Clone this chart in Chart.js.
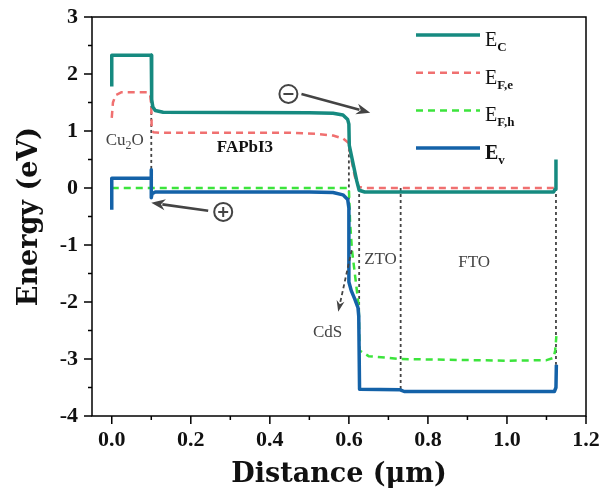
<!DOCTYPE html>
<html>
<head>
<meta charset="utf-8">
<script src="https://cdn.jsdelivr.net/npm/chart.js@4/dist/chart.umd.min.js"></script>
<style>
  html, body { margin: 0; padding: 0; background: #fff; }
</style>
</head>
<body>
<canvas id="bandChart" width="602" height="488"></canvas>
<script>
//========== data ==========//

// conduction band
const ecX = [0, 0, 0.1, 0.101, 0.104, 0.11, 0.13, 0.5, 0.56, 0.585, 0.597, 0.6, 0.601, 0.61, 0.62, 0.626, 0.64, 1.118, 1.122, 1.124];
const ecY = [1.78, 2.33, 2.33, 1.55, 1.42, 1.36, 1.33, 1.32, 1.31, 1.28, 1.2, 1.12, 0.75, 0.45, 0.12, -0.04, -0.07, -0.07, -0.02, 0.5];

// electron quasi-Fermi level
const efeX = [0, 0.003, 0.01, 0.025, 0.09, 0.097, 0.1, 0.101, 0.105, 0.12, 0.45, 0.52, 0.56, 0.585, 0.598, 0.605, 0.615, 0.625, 0.64, 1.12];
const efeY = [1.23, 1.5, 1.63, 1.68, 1.68, 1.64, 1.45, 1.05, 0.98, 0.97, 0.97, 0.95, 0.92, 0.87, 0.8, 0.55, 0.2, 0.02, 0.0, 0.0];

// hole quasi-Fermi level
const efhX = [0, 0.6, 0.603, 0.608, 0.615, 0.622, 0.625, 0.627, 0.65, 0.7, 0.73, 1.0, 1.1, 1.118, 1.122, 1.125];
const efhY = [0.0, 0.0, -0.6, -1.1, -1.5, -1.9, -2.1, -2.85, -2.95, -2.98, -3.0, -3.03, -3.02, -2.98, -2.85, -2.6];

// valence band
const evX = [0, 0, 0.1, 0.1, 0.1, 0.102, 0.11, 0.13, 0.5, 0.56, 0.585, 0.597, 0.6, 0.6, 0.606, 0.615, 0.623, 0.625, 0.627, 0.73, 0.74, 1.12, 1.124, 1.125];
const evY = [-0.38, 0.17, 0.17, 0.32, -0.17, -0.1, -0.07, -0.07, -0.07, -0.08, -0.12, -0.2, -0.35, -1.65, -1.8, -1.95, -2.1, -2.25, -3.53, -3.54, -3.57, -3.57, -3.5, -3.1];

// layer boundaries (dotted verticals)
const boundaryX = [0.1, 0.6, 0.626, 0.731, 1.124];
const boundaryTop = [1.65, 0.8, 0.0, 0.0, 0.0];
const boundaryBottom = [0.15, -0.4, -2.2, -3.55, -3.1];

// axes
const xTicks = [0, 0.2, 0.4, 0.6, 0.8, 1.0, 1.2];
const xTickLabels = ['0.0', '0.2', '0.4', '0.6', '0.8', '1.0', '1.2'];
const xMinor = [0.1, 0.3, 0.5, 0.7, 0.9, 1.1];
const yTicks = [-4, -3, -2, -1, 0, 1, 2, 3];
const yTickLabels = ['-4', '-3', '-2', '-1', '0', '1', '2', '3'];
const yMinor = [-3.5, -2.5, -1.5, -0.5, 0.5, 1.5, 2.5];

// legend
const legendMain = ['E', 'E', 'E', 'E'];
const legendSub = ['C', 'F,e', 'F,h', 'v'];

// annotations (data coordinates)
const layerLabels = [
  { text: 'Cu', sub: '2', tail: 'O', x: 0.033, y: 0.83, bold: false },
  { text: 'FAPbI3', x: 0.337, y: 0.7, bold: true },
  { text: 'ZTO', x: 0.68, y: -1.26, bold: false },
  { text: 'FTO', x: 0.917, y: -1.3, bold: false },
  { text: 'CdS', x: 0.546, y: -2.53, bold: false }
];
const arrows = [
  { from: [0.48, 1.65], to: [0.654, 1.32], dashed: false },
  { from: [0.244, -0.4], to: [0.1, -0.26], dashed: false },
  { from: [0.607, -1.09], to: [0.573, -2.17], dashed: true }
];
const carriers = [
  { sign: '-', x: 0.447, y: 1.65 },
  { sign: '+', x: 0.282, y: -0.42 }
];

//========== helpers ==========//
const toPoints = (xs, ys) => xs.map((x, i) => ({ x: x, y: ys[i] }));

const colors = {
  ec: 'rgb(22, 138, 128)',
  efe: 'rgb(240, 112, 112)',
  efh: 'rgb(60, 228, 60)',
  ev: 'rgb(20, 98, 168)',
  ink: '#444'
};

const bandSets = [
  { label: 'Ev', data: toPoints(evX, evY), borderColor: colors.ev, borderWidth: 3.5 },
  { label: 'Ec', data: toPoints(ecX, ecY), borderColor: colors.ec, borderWidth: 3.5 },
  { label: 'EFe', data: toPoints(efeX, efeY), borderColor: colors.efe, borderWidth: 2.5, borderDash: [7, 5] },
  { label: 'EFh', data: toPoints(efhX, efhY), borderColor: colors.efh, borderWidth: 2.5, borderDash: [7, 5] }
];

const boundarySets = boundaryX.map((x, i) => ({
  label: 'boundary' + i,
  data: [{ x: x, y: boundaryTop[i] }, { x: x, y: boundaryBottom[i] }],
  borderColor: colors.ink,
  borderWidth: 1.8,
  borderDash: [3, 3]
}));

const data = {
  datasets: bandSets.concat(boundarySets).map(d => Object.assign({
    fill: false,
    pointRadius: 0,
    pointHoverRadius: 0,
    tension: 0,
    borderCapStyle: 'butt',
    borderJoinStyle: 'round'
  }, d))
};

// legend order in the picture
const legendOrder = [1, 2, 3, 0];

//========== plugins ==========//
const frameAndTicks = {
  id: 'frameAndTicks',
  afterDatasetsDraw(chart) {
    const { ctx, chartArea: a, scales: { x, y } } = chart;
    ctx.save();
    ctx.strokeStyle = '#000';
    ctx.lineWidth = 1.5;
    ctx.strokeRect(a.left, a.top, a.right - a.left, a.bottom - a.top);
    ctx.beginPath();
    yTicks.forEach(v => { const p = y.getPixelForValue(v); ctx.moveTo(a.left - 8, p); ctx.lineTo(a.left, p); });
    yMinor.forEach(v => { const p = y.getPixelForValue(v); ctx.moveTo(a.left - 4, p); ctx.lineTo(a.left, p); });
    xTicks.forEach(v => { const p = x.getPixelForValue(v); ctx.moveTo(p, a.bottom); ctx.lineTo(p, a.bottom + 8); });
    xMinor.forEach(v => { const p = x.getPixelForValue(v); ctx.moveTo(p, a.bottom); ctx.lineTo(p, a.bottom + 4); });
    ctx.stroke();
    ctx.restore();
  }
};

const annotations = {
  id: 'annotations',
  afterDatasetsDraw(chart) {
    const { ctx, scales: { x, y } } = chart;
    ctx.save();
    ctx.fillStyle = colors.ink;
    ctx.textBaseline = 'middle';

    // layer names
    layerLabels.forEach(l => {
      const px = x.getPixelForValue(l.x), py = y.getPixelForValue(l.y);
      ctx.fillStyle = l.bold ? '#111' : colors.ink;
      const f = (l.bold ? 'bold ' : '') + '17px "Liberation Serif"';
      ctx.font = f;
      if (l.sub) {
        const w1 = ctx.measureText(l.text).width;
        ctx.font = '12px "Liberation Serif"';
        const w2 = ctx.measureText(l.sub).width;
        ctx.font = f;
        const w3 = ctx.measureText(l.tail).width;
        let sx = px - (w1 + w2 + w3) / 2;
        ctx.textAlign = 'left';
        ctx.fillText(l.text, sx, py);
        ctx.font = '12px "Liberation Serif"';
        ctx.fillText(l.sub, sx + w1, py + 5);
        ctx.font = f;
        ctx.fillText(l.tail, sx + w1 + w2, py);
      } else {
        ctx.textAlign = 'center';
        ctx.fillText(l.text, px, py);
      }
    });

    // arrows
    ctx.strokeStyle = colors.ink;
    ctx.fillStyle = colors.ink;
    arrows.forEach(ar => {
      const x1 = x.getPixelForValue(ar.from[0]), y1 = y.getPixelForValue(ar.from[1]);
      const x2 = x.getPixelForValue(ar.to[0]), y2 = y.getPixelForValue(ar.to[1]);
      const ang = Math.atan2(y2 - y1, x2 - x1);
      const head = ar.dashed ? 11 : 14, half = ar.dashed ? 4 : 5.5;
      ctx.lineWidth = ar.dashed ? 1.8 : 2.6;
      ctx.setLineDash(ar.dashed ? [4, 3] : []);
      ctx.beginPath();
      ctx.moveTo(x1, y1);
      ctx.lineTo(x2 - Math.cos(ang) * head * 0.8, y2 - Math.sin(ang) * head * 0.8);
      ctx.stroke();
      ctx.setLineDash([]);
      ctx.beginPath();
      ctx.moveTo(x2, y2);
      ctx.lineTo(x2 - Math.cos(ang) * head + Math.sin(ang) * half, y2 - Math.sin(ang) * head - Math.cos(ang) * half);
      ctx.lineTo(x2 - Math.cos(ang) * head * 0.7, y2 - Math.sin(ang) * head * 0.7);
      ctx.lineTo(x2 - Math.cos(ang) * head - Math.sin(ang) * half, y2 - Math.sin(ang) * head + Math.cos(ang) * half);
      ctx.closePath();
      ctx.fill();
    });

    // carrier symbols
    ctx.lineWidth = 2;
    carriers.forEach(c => {
      const px = x.getPixelForValue(c.x), py = y.getPixelForValue(c.y);
      ctx.beginPath();
      ctx.arc(px, py, 9, 0, Math.PI * 2);
      ctx.moveTo(px - 5, py);
      ctx.lineTo(px + 5, py);
      if (c.sign === '+') { ctx.moveTo(px, py - 5); ctx.lineTo(px, py + 5); }
      ctx.stroke();
    });

    // legend
    legendOrder.forEach((di, i) => {
      const ds = chart.data.datasets[di];
      const ly = 35 + i * 37.7;
      ctx.strokeStyle = ds.borderColor;
      ctx.lineWidth = ds.borderDash ? 2.5 : 3.5;
      ctx.setLineDash(ds.borderDash || []);
      ctx.beginPath();
      ctx.moveTo(416, ly);
      ctx.lineTo(480, ly);
      ctx.stroke();
      ctx.setLineDash([]);
      ctx.fillStyle = '#111';
      ctx.textAlign = 'left';
      ctx.textBaseline = 'alphabetic';
      const bold = i === 3 ? 'bold ' : '';
      ctx.font = bold + '20px "Liberation Serif"';
      ctx.fillText(legendMain[i], 485, ly + 11);
      const w = ctx.measureText(legendMain[i]).width;
      ctx.font = 'bold 13px "Liberation Serif"';
      ctx.fillText(legendSub[i], 485 + w, ly + 16);
    });
    ctx.restore();
  }
};

// keep the plot box fixed: no extra room for overhanging tick labels
const fixPad = s => { s.paddingTop = 0; s.paddingBottom = 0; s.paddingLeft = 0; s.paddingRight = 0; };

//========== config ==========//
const config = {
  type: 'line',
  data,
  options: {
    responsive: false,
    animation: false,
    devicePixelRatio: 1,
    parsing: false,
    layout: { padding: { top: 17, right: 16, left: 0, bottom: 0 } },
    plugins: {
      legend: { display: false },
      tooltip: { enabled: false }
    },
    scales: {
      x: {
        type: 'linear',
        min: -0.05,
        max: 1.2,
        afterFit: s => { s.height = 72; fixPad(s); },
        afterBuildTicks: s => { s.ticks = xTicks.map(v => ({ value: v })); },
        grid: { display: false, drawTicks: false },
        border: { display: false },
        ticks: {
          padding: 11,
          color: '#111',
          maxRotation: 0,
          autoSkip: false,
          font: { family: '"Liberation Serif"', size: 22, weight: 'bold' },
          callback: (v, i) => xTickLabels[i]
        },
        title: {
          display: true,
          text: 'Distance (μm)',
          color: '#111',
          padding: { top: 0, bottom: 0 },
          font: { family: '"DejaVu Serif"', size: 27, weight: 'bold', lineHeight: 1 }
        }
      },
      y: {
        type: 'linear',
        min: -4,
        max: 3,
        afterFit: s => { s.width = 92; fixPad(s); },
        afterBuildTicks: s => { s.ticks = yTicks.map(v => ({ value: v })); },
        grid: { display: false, drawTicks: false },
        border: { display: false },
        ticks: {
          padding: 14,
          color: '#111',
          autoSkip: false,
          font: { family: '"Liberation Serif"', size: 22, weight: 'bold' },
          callback: (v, i) => yTickLabels[i]
        },
        title: {
          display: true,
          text: 'Energy (eV)',
          color: '#111',
          padding: { top: 16, bottom: 0 },
          font: { family: '"DejaVu Serif"', size: 27, weight: 'bold', lineHeight: 1 }
        }
      }
    }
  },
  plugins: [frameAndTicks, annotations]
};

// render init block
const bandChart = new Chart(
  document.getElementById('bandChart'),
  config
);
</script>
</body>
</html>
